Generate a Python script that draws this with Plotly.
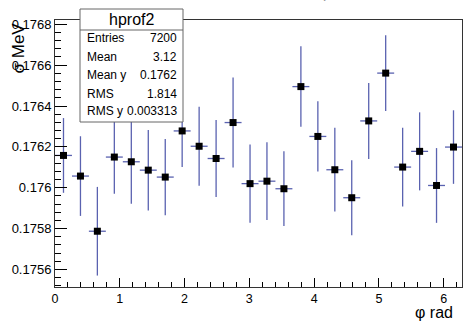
import plotly.graph_objects as go

# ---- data ----
phi = [0.131, 0.393, 0.654, 0.916, 1.178, 1.440, 1.702, 1.963, 2.225, 2.487, 2.749, 3.011,
       3.272, 3.534, 3.796, 4.058, 4.320, 4.581, 4.843, 5.105, 5.367, 5.629, 5.890, 6.152]
sigma = [0.176158, 0.176057, 0.175787, 0.176150, 0.176127, 0.176086, 0.176052, 0.176278,
         0.176203, 0.176143, 0.176319, 0.176020, 0.176032, 0.175995, 0.176495, 0.176251,
         0.176088, 0.175951, 0.176327, 0.176561, 0.176101, 0.176178, 0.176011, 0.176199]
sigma_err = [0.000183, 0.000195, 0.000217, 0.000180, 0.000206, 0.000197, 0.000187, 0.000176,
             0.000193, 0.000188, 0.000220, 0.000192, 0.000190, 0.000183, 0.000197, 0.000172,
             0.000205, 0.000184, 0.000186, 0.000185, 0.000193, 0.000191, 0.000183, 0.000180]
bin_half_width = 0.1309

x_tickvals = [0, 1, 2, 3, 4, 5, 6]
x_ticktext = ["0", "1", "2", "3", "4", "5", "6"]
y_tickvals = [0.1756, 0.1758, 0.1760, 0.1762, 0.1764, 0.1766, 0.1768]
y_ticktext = ["0.1756", "0.1758", "0.176", "0.1762", "0.1764", "0.1766", "0.1768"]

stats_title = "hprof2"
stats_labels = ["Entries", "Mean", "Mean y", "RMS", "RMS y"]
stats_values = ["7200", "3.12", "0.1762", "1.814", "0.003313"]

# ---- layout geometry (pixels) ----
W, H = 471, 325
L, R, T, B = 55, 462, 20, 287
FONT = "Liberation Sans, Arial, Helvetica, sans-serif"
ERRC = "#5a62b0"

def px(xp):
    return (xp - L) / (R - L)

def py(yp):
    return (B - yp) / (B - T)

fig = go.Figure()
fig.add_trace(go.Scatter(
    x=phi, y=sigma, mode="markers",
    marker=dict(symbol="square", size=7, color="black"),
    error_y=dict(type="data", array=sigma_err, color=ERRC, thickness=1.3, width=0),
    error_x=dict(type="constant", value=bin_half_width, color=ERRC, thickness=1.3, width=0),
    showlegend=False, cliponaxis=True,
))

axis_common = dict(
    showgrid=False, zeroline=False, showline=True, mirror=True,
    linecolor="#333", linewidth=1, ticks="inside", tickcolor="black",
    tickmode="array",
)
fig.update_xaxes(
    **axis_common, range=[0, 6.2832], tickvals=x_tickvals, ticktext=x_ticktext,
    tickfont=dict(family=FONT, size=12.5, color="black"),
    ticklen=9,
    minor=dict(ticks="inside", tickmode="linear", tick0=0, dtick=0.2,
               ticklen=5, tickcolor="black"),
)
fig.update_yaxes(
    **axis_common, range=[0.175514, 0.176821], tickvals=y_tickvals, ticktext=y_ticktext,
    tickfont=dict(family=FONT, size=13, color="black"),
    ticklen=12, minor=dict(ticks="inside", tickmode="linear", tick0=0.1756, dtick=0.00004,
                           ticklen=6, tickcolor="black"),
)

shapes = [
    dict(type="rect", xref="paper", yref="paper", x0=px(80), x1=px(183), y0=py(122), y1=py(9),
         fillcolor="white", line=dict(color="#666", width=1), layer="above"),
    dict(type="line", xref="paper", yref="paper", x0=px(80), x1=px(183), y0=py(30), y1=py(30),
         line=dict(color="#666", width=1), layer="above"),
]

annotations = [
    dict(text=stats_title, xref="paper", yref="paper", x=px(131.5), y=py(19.5),
         xanchor="center", yanchor="middle", showarrow=False,
         font=dict(family=FONT, size=16, color="black")),
    # y axis title
    dict(text="σ MeV", xref="paper", yref="paper", x=px(18), y=py(21),
         xanchor="center", yanchor="top", textangle=-90, showarrow=False,
         font=dict(family=FONT, size=17, color="black")),
    # x axis title
    dict(text="φ rad", xref="paper", yref="paper", x=px(455), y=py(312),
         xanchor="right", yanchor="middle", showarrow=False,
         font=dict(family=FONT, size=16, color="black")),
    # cut-off title at the top
    dict(text="Profile of σ versus φ", xref="paper", yref="paper", x=px(258), y=py(3),
         xanchor="center", yanchor="bottom", showarrow=False,
         font=dict(family=FONT, size=16, color="#999")),
]
row_y = [37.5, 56.5, 75, 93.5, 111]
for lab, val, yy in zip(stats_labels, stats_values, row_y):
    annotations.append(dict(text=lab, xref="paper", yref="paper", x=px(85), y=py(yy),
                            xanchor="left", yanchor="middle", showarrow=False,
                            font=dict(family=FONT, size=12, color="black")))
    annotations.append(dict(text=val, xref="paper", yref="paper", x=px(179), y=py(yy),
                            xanchor="right", yanchor="middle", showarrow=False,
                            font=dict(family=FONT, size=12, color="black")))

fig.update_layout(
    width=W, height=H, margin=dict(l=L, r=W - R, t=T, b=H - B, pad=0),
    paper_bgcolor="white", plot_bgcolor="white",
    shapes=shapes, annotations=annotations,
)

fig.write_html("out.html")
